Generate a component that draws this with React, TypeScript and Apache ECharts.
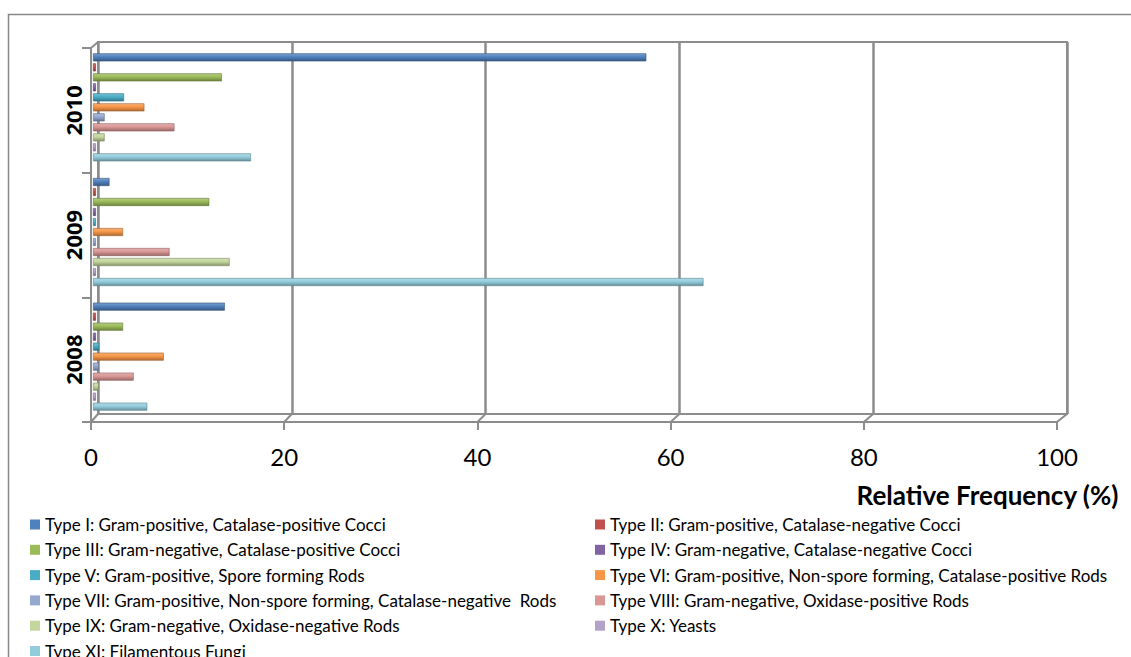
import React, { useEffect, useRef } from "react";
import * as echarts from "echarts";

// Years shown on the category axis (top to bottom)
const years = ["2010", "2009", "2008"];

// Isolate types
const typeNames = [
  "Type I: Gram-positive, Catalase-positive Cocci",
  "Type II: Gram-positive, Catalase-negative Cocci",
  "Type III: Gram-negative, Catalase-positive Cocci",
  "Type IV: Gram-negative, Catalase-negative Cocci",
  "Type V: Gram-positive, Spore forming Rods",
  "Type VI: Gram-positive, Non-spore forming, Catalase-positive Rods",
  "Type VII: Gram-positive, Non-spore forming, Catalase-negative  Rods",
  "Type VIII: Gram-negative, Oxidase-positive Rods",
  "Type IX: Gram-negative, Oxidase-negative Rods",
  "Type X: Yeasts",
  "Type XI: Filamentous Fungi",
];

const typeColors = [
  "#4F81BD", "#C0504D", "#9BBB59", "#8064A2", "#4BACC6", "#F79646",
  "#95A8D1", "#D99694", "#C3D69B", "#B3A2C7", "#93CDDD",
];

// Relative frequency (%) per type, ordered as years: 2010, 2009, 2008
const typeI = [57.1, 1.7, 13.6];
const typeII = [0.3, 0.3, 0.3];
const typeIII = [13.3, 12.0, 3.1];
const typeIV = [0.3, 0.3, 0.3];
const typeV = [3.2, 0.3, 0.65];
const typeVI = [5.3, 3.1, 7.3];
const typeVII = [1.2, 0.3, 0.6];
const typeVIII = [8.4, 7.9, 4.2];
const typeIX = [1.2, 14.1, 0.6];
const typeX = [0.3, 0.3, 0.3];
const typeXI = [16.3, 63.0, 5.6];

const typeValues = [
  typeI, typeII, typeIII, typeIV, typeV, typeVI,
  typeVII, typeVIII, typeIX, typeX, typeXI,
];

const xTicks = [0, 20, 40, 60, 80, 100];

function shade(hex: string, f: number): string {
  const n = parseInt(hex.slice(1), 16);
  let r = (n >> 16) & 255, g = (n >> 8) & 255, b = n & 255;
  if (f >= 0) {
    r = Math.round(r + (255 - r) * f);
    g = Math.round(g + (255 - g) * f);
    b = Math.round(b + (255 - b) * f);
  } else {
    r = Math.round(r * (1 + f));
    g = Math.round(g * (1 + f));
    b = Math.round(b * (1 + f));
  }
  return `rgb(${r},${g},${b})`;
}

// layout of the front and back planes of the 3-D frame
const FRONT = { left: 91, right: 1057, top: 48, bottom: 422 };
const BACK = { left: 98, right: 1067, top: 42, bottom: 414 };
const FRAME = "#8c8c8c";
const FONT = "Lato, 'Open Sans', sans-serif";

export default function App() {
  const ref = useRef<HTMLDivElement>(null);

  useEffect(() => {
    if (!ref.current) return;
    const chart = echarts.init(ref.current, undefined, { renderer: "svg" });

    const series = typeNames.map((name, i) => ({
      name,
      type: "bar",
      xAxisIndex: 0,
      yAxisIndex: 0,
      barWidth: 8,
      barGap: "25%",
      data: typeValues[i],
      itemStyle: {
        color: {
          type: "linear",
          x: 0, y: 0, x2: 0, y2: 1,
          colorStops: [
            { offset: 0, color: shade(typeColors[i], 0.25) },
            { offset: 0.45, color: typeColors[i] },
            { offset: 1, color: shade(typeColors[i], -0.3) },
          ],
        },
        borderColor: shade(typeColors[i], -0.35),
        borderWidth: 0.6,
      },
    }));

    const fw = (FRONT.right - FRONT.left) / 100;
    const bw = (BACK.right - BACK.left) / 100;
    const graphics: any[] = xTicks.map((t) => ({
      type: "line",
      shape: {
        x1: FRONT.left + t * fw, y1: FRONT.bottom,
        x2: BACK.left + t * bw, y2: BACK.bottom,
      },
      style: { stroke: FRAME, lineWidth: 2 },
      silent: true,
    }));
    graphics.push({
      type: "line",
      shape: { x1: FRONT.left, y1: FRONT.top, x2: BACK.left, y2: BACK.top },
      style: { stroke: FRAME, lineWidth: 2 },
      silent: true,
    });
    // outer chart border
    graphics.push({
      type: "rect",
      shape: { x: 8.5, y: 14.5, width: 1200, height: 800 },
      style: { fill: "none", stroke: "#888", lineWidth: 1.5 },
      silent: true,
    });

    const legendText = {
      fontFamily: FONT,
      fontSize: 17,
      color: "#000",
      lineHeight: 16,
    };
    const legendItems = (parity: number) =>
      typeNames
        .map((name, i) => ({ name, i }))
        .filter((d) => d.i % 2 === parity)
        .map((d) => ({
          name: d.name,
          itemStyle: { color: typeColors[d.i], borderWidth: 0 },
        }));

    chart.setOption({
      animation: false,
      backgroundColor: "#fff",
      color: typeColors,
      title: {
        text: "Relative Frequency (%)",
        right: 7,
        top: 477,
        textStyle: {
          fontFamily: FONT,
          fontWeight: "bold",
          fontSize: 26,
          color: "#000",
        },
      },
      grid: [
        // bars
        { left: 93, width: 969, top: 45, height: 374 },
        // back wall
        {
          left: BACK.left, width: BACK.right - BACK.left,
          top: BACK.top, height: BACK.bottom - BACK.top,
          show: true, borderColor: FRAME, borderWidth: 2,
          backgroundColor: "transparent",
        },
        // front axes
        {
          left: FRONT.left, width: FRONT.right - FRONT.left,
          top: FRONT.top, height: FRONT.bottom - FRONT.top,
        },
      ],
      xAxis: [
        { gridIndex: 0, type: "value", min: 0, max: 100, show: false },
        {
          gridIndex: 1, type: "value", min: 0, max: 100, interval: 20,
          axisLine: { show: false }, axisTick: { show: false },
          axisLabel: { show: false },
          splitLine: { show: true, lineStyle: { color: FRAME, width: 2.5 } },
        },
        {
          gridIndex: 2, type: "value", min: 0, max: 100, interval: 20,
          axisLine: { show: true, lineStyle: { color: FRAME, width: 2 } },
          axisTick: { show: true, length: 8, lineStyle: { color: FRAME, width: 2 } },
          axisLabel: {
            fontFamily: FONT,
            fontSize: 24, color: "#000", margin: 22,
          },
          splitLine: { show: false },
        },
      ],
      yAxis: [
        { gridIndex: 0, type: "category", data: years, inverse: true, show: false },
        { gridIndex: 1, type: "category", data: years, inverse: true, show: false },
        {
          gridIndex: 2, type: "category", data: years, inverse: true,
          axisLine: { show: true, lineStyle: { color: FRAME, width: 2 } },
          axisTick: { show: true, length: 9, lineStyle: { color: FRAME, width: 2 } },
          axisLabel: {
            rotate: 90,
            fontFamily: "'Open Sans', Lato, sans-serif",
            fontWeight: "bold", fontSize: 22, color: "#000", margin: 7,
          },
        },
      ],
      legend: [
        {
          orient: "vertical",
          left: 30, top: 516, height: 300, padding: 0,
          itemWidth: 10, itemHeight: 10, itemGap: 8.3,
          icon: "rect",
          textStyle: legendText,
          data: legendItems(0),
        },
        {
          orient: "vertical",
          left: 595, top: 516, height: 300, padding: 0,
          itemWidth: 10, itemHeight: 10, itemGap: 8.3,
          icon: "rect",
          textStyle: legendText,
          data: legendItems(1),
        },
      ],
      graphic: graphics,
      series,
    });

    return () => chart.dispose();
  }, []);

  return (
    <div
      ref={ref}
      style={{ position: "fixed", left: 0, top: 0, width: 1131, height: 657 }}
    />
  );
}
